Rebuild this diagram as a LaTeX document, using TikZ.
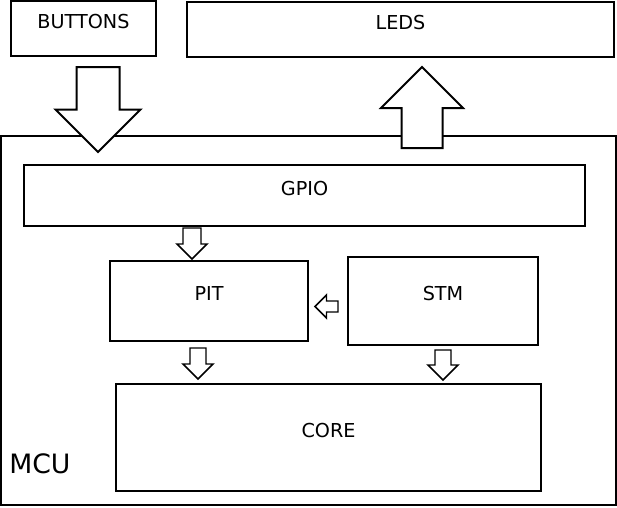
\documentclass[tikz,border=0pt]{standalone}
\usepackage{fontspec}
\setmainfont{DejaVu Sans}
\usepackage{tikz}
\usetikzlibrary{positioning}
\tikzset{
    mcubox/.style 2 args={draw, line width=0.95pt, minimum width=#1*0.75pt, minimum height=#2*0.75pt, inner sep=0pt},
    mcutext/.style={font=\fontsize{14.4}{17}\selectfont, yshift=5.6pt},
    mcutitle/.style={font=\fontsize{20}{24}\selectfont, inner sep=0pt},
    bigarrowline/.style={draw, line width=1.5pt, fill=white, line join=miter},
    smallarrowline/.style={draw, line width=1.1pt, fill=white, line join=miter},
    pics/blockarrow/.style n args={4}{code={
        \path[#4] (0,0) -- (#2,-#2) -- (#3,-#2) -- (#3,-#1) -- (-#3,-#1) -- (-#3,-#2) -- (-#2,-#2) -- cycle;
    }}
}
\begin{document}
\begin{tikzpicture}[x=0.75pt, y=-0.75pt]
        \useasboundingbox (0,0) rectangle (617,507);
        \node[mcubox={145}{55}, label={[mcutext]center:BUTTONS}] (buttons) at (83.5,28.5) {};
        \node[mcubox={427}{55}, label={[mcutext]center:LEDS}] (leds) at (400.5,29.5) {};
        \node[mcubox={615}{369}] (mcu) at (308.5,320.5) {};
        \node[mcutitle, anchor=west] (mcuname) at (9,464) {MCU};
        \node[mcubox={561}{61}, label={[mcutext]center:GPIO}] (gpio) at (304.5,195.5) {};
        \node[mcubox={198}{80}, label={[mcutext]center:PIT}] (pit) at (209,301) {};
        \node[mcubox={190}{88}, label={[mcutext]center:STM}] (stm) at (443,301) {};
        \node[mcubox={425}{107}, label={[mcutext]center:CORE}] (core) at (328.5,437.5) {};

        % block arrows: tip x/y, rotation, length, half head, half shaft, style
        \foreach \x/\y/\r/\l/\h/\s/\st in {98/152/0/85/42.5/21.5/bigarrowline, 422/67/180/81/41/20.5/bigarrowline,
            192/259/0/31/15/9/smallarrowline, 315/306.5/-90/23/11.5/5.5/smallarrowline,
            198/379/0/31/15/8/smallarrowline, 443/380/0/30/15/8/smallarrowline}
            \pic[rotate=\r] at (\x,\y) {blockarrow={\l}{\h}{\s}{\st}};
    \end{tikzpicture}
\end{document}
